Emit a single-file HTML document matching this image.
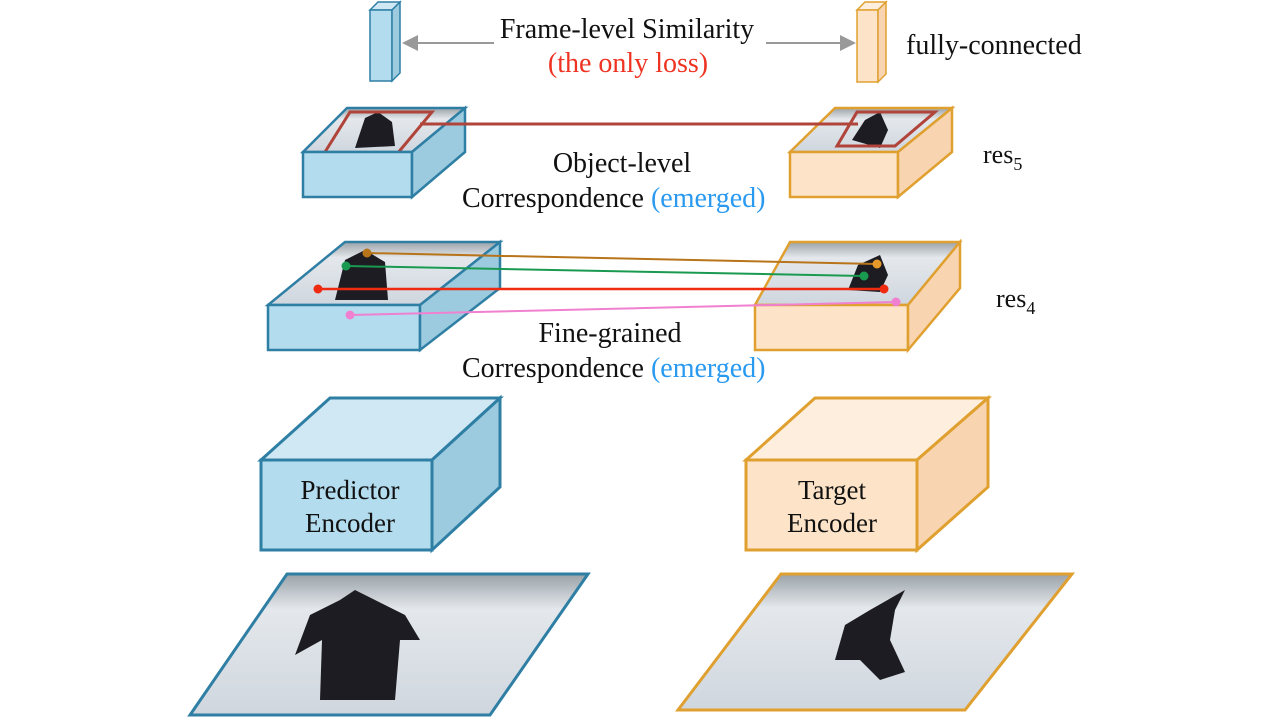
<!DOCTYPE html>
<html><head><meta charset="utf-8"><style>
html,body{margin:0;padding:0;background:#fff;width:1280px;height:720px;overflow:hidden}
svg text{font-family:"Liberation Serif",serif}
</style></head><body>
<svg width="1280" height="720" viewBox="0 0 1280 720">
<defs>
<linearGradient id="snow" x1="0" y1="0" x2="0" y2="1">
<stop offset="0" stop-color="#9aa2a8"/><stop offset="0.25" stop-color="#e4e8ec"/><stop offset="1" stop-color="#cfd6de"/>
</linearGradient>
<marker id="ah" markerWidth="8" markerHeight="8" refX="6" refY="4" orient="auto"><path d="M0,0 L8,4 L0,8 z" fill="#999"/></marker>
</defs>

<g>
<polygon points="370,10 378,2 400,2 392,10" fill="#cfe8f4" stroke="#2f7fa5" stroke-width="1.5"/>
<rect x="370" y="10" width="22" height="71" fill="#b3dcee" stroke="#2f7fa5" stroke-width="1.5"/>
<polygon points="392,10 400,2 400,73 392,81" fill="#9ccbe0" stroke="#2f7fa5" stroke-width="1.5"/>
</g>
<g>
<polygon points="857,10 865,2 886,2 878,10" fill="#fdeedd" stroke="#e0a030" stroke-width="1.5"/>
<rect x="857" y="10" width="21" height="72" fill="#fde4c8" stroke="#e0a030" stroke-width="1.5"/>
<polygon points="878,10 886,2 886,74 878,82" fill="#f8d5b0" stroke="#e0a030" stroke-width="1.5"/>
</g>
<line x1="494" y1="43" x2="406" y2="43" stroke="#999" stroke-width="2" marker-end="url(#ah)"/>
<line x1="766" y1="43" x2="852" y2="43" stroke="#999" stroke-width="2" marker-end="url(#ah)"/>
<text x="627" y="38" font-size="28" text-anchor="middle" fill="#111">Frame-level Similarity</text>
<text x="628" y="72" font-size="28" text-anchor="middle" fill="#ee3322">(the only loss)</text>
<text x="906" y="54" font-size="28" fill="#111">fully-connected</text>

<g>
<polygon points="347,108 465,108 412,152 303,152" fill="url(#snow)" stroke="#2f7fa5" stroke-width="2.5"/>
<path d="M355,148 L365,118 L378,112 L392,122 L395,146 z" fill="#1c1c22"/>
<polygon points="350,112 432,112 392,160 320,160" fill="none" stroke="#b0443a" stroke-width="3"/>
<rect x="303" y="152" width="109" height="45" fill="#b3dcee" stroke="#2f7fa5" stroke-width="2.5"/>
<polygon points="412,152 465,108 465,152 412,197" fill="#9ccbe0" stroke="#2f7fa5" stroke-width="2.5"/>
</g>
<g>
<polygon points="835,108 952,108 898,152 790,152" fill="url(#snow)" stroke="#e0a030" stroke-width="2.5"/>
<path d="M852,140 L865,120 L880,112 L888,130 L880,148 z" fill="#1c1c22"/>
<polygon points="857,112 935,112 895,146 837,146" fill="none" stroke="#b0443a" stroke-width="3"/>
<rect x="790" y="152" width="108" height="45" fill="#fde4c8" stroke="#e0a030" stroke-width="2.5"/>
<polygon points="898,152 952,108 952,152 898,197" fill="#f8d5b0" stroke="#e0a030" stroke-width="2.5"/>
</g>
<line x1="420" y1="124" x2="858" y2="124" stroke="#b0443a" stroke-width="3"/>
<text x="622" y="172" font-size="28" text-anchor="middle" fill="#111">Object-level</text>
<text x="462" y="207" font-size="28" fill="#111">Correspondence <tspan fill="#2a9af0">(emerged)</tspan></text>
<text x="983" y="163" font-size="26" fill="#111">res<tspan font-size="18" dy="7">5</tspan></text>

<g>
<polygon points="345,242 500,242 420,305 268,305" fill="url(#snow)" stroke="#2f7fa5" stroke-width="2.5"/>
<path d="M335,300 L345,260 L365,250 L385,262 L388,300 z" fill="#1c1c22"/>
<rect x="268" y="305" width="152" height="45" fill="#b3dcee" stroke="#2f7fa5" stroke-width="2.5"/>
<polygon points="420,305 500,242 500,288 420,350" fill="#9ccbe0" stroke="#2f7fa5" stroke-width="2.5"/>
</g>
<g>
<polygon points="790,242 960,242 908,305 755,305" fill="url(#snow)" stroke="#e0a030" stroke-width="2.5"/>
<path d="M848,290 L858,265 L880,255 L888,275 L880,292 z" fill="#1c1c22"/>
<rect x="755" y="305" width="153" height="45" fill="#fde4c8" stroke="#e0a030" stroke-width="2.5"/>
<polygon points="908,305 960,242 960,288 908,350" fill="#f8d5b0" stroke="#e0a030" stroke-width="2.5"/>
</g>
<g>
<line x1="367" y1="253" x2="877" y2="264" stroke="#b8741a" stroke-width="2"/>
<circle cx="367" cy="253" r="4.5" fill="#b8741a"/><circle cx="877" cy="264" r="4.5" fill="#e69a2a"/>
<line x1="346" y1="266" x2="864" y2="276" stroke="#1a9a50" stroke-width="2"/>
<circle cx="346" cy="266" r="4.5" fill="#1a9a50"/><circle cx="864" cy="276" r="4.5" fill="#1a9a50"/>
<line x1="318" y1="289" x2="884" y2="289" stroke="#ee2a10" stroke-width="2.5"/>
<circle cx="318" cy="289" r="4.5" fill="#ee2a10"/><circle cx="884" cy="289" r="4.5" fill="#ee2a10"/>
<line x1="350" y1="315" x2="896" y2="302" stroke="#f080d0" stroke-width="2"/>
<circle cx="350" cy="315" r="4.5" fill="#f080d0"/><circle cx="896" cy="302" r="4.5" fill="#f080d0"/>
</g>
<text x="610" y="342" font-size="28" text-anchor="middle" fill="#111">Fine-grained</text>
<text x="462" y="377" font-size="28" fill="#111">Correspondence <tspan fill="#2a9af0">(emerged)</tspan></text>
<text x="996" y="307" font-size="26" fill="#111">res<tspan font-size="18" dy="7">4</tspan></text>

<g>
<polygon points="261,460 330,398 500,398 432,460" fill="#cfe8f4" stroke="#2f7fa5" stroke-width="3"/>
<rect x="261" y="460" width="171" height="90" fill="#b3dcee" stroke="#2f7fa5" stroke-width="3"/>
<polygon points="432,460 500,398 500,487 432,550" fill="#9ccbe0" stroke="#2f7fa5" stroke-width="3"/>
<text x="350" y="499" font-size="27" text-anchor="middle" fill="#111">Predictor</text>
<text x="350" y="532" font-size="27" text-anchor="middle" fill="#111">Encoder</text>
</g>
<g>
<polygon points="746,460 815,398 988,398 917,460" fill="#fdeedd" stroke="#e0a030" stroke-width="3"/>
<rect x="746" y="460" width="171" height="90" fill="#fde4c8" stroke="#e0a030" stroke-width="3"/>
<polygon points="917,460 988,398 988,487 917,550" fill="#f8d5b0" stroke="#e0a030" stroke-width="3"/>
<text x="832" y="499" font-size="27" text-anchor="middle" fill="#111">Target</text>
<text x="832" y="532" font-size="27" text-anchor="middle" fill="#111">Encoder</text>
</g>

<g>
<polygon points="287,574 588,574 490,715 190,715" fill="url(#snow)" stroke="#2f7fa5" stroke-width="3"/>
<path d="M320,700 L322,640 L295,655 L310,615 L340,600 L355,590 L375,600 L405,615 L420,640 L400,640 L395,700 z" fill="#1c1c22"/>
</g>
<g>
<polygon points="781,574 1072,574 965,710 678,710" fill="url(#snow)" stroke="#e0a030" stroke-width="3"/>
<path d="M835,660 L845,625 L870,610 L905,590 L895,610 L890,640 L905,672 L880,680 L860,660 z" fill="#1c1c22"/>
</g>
</svg>
</body></html>
